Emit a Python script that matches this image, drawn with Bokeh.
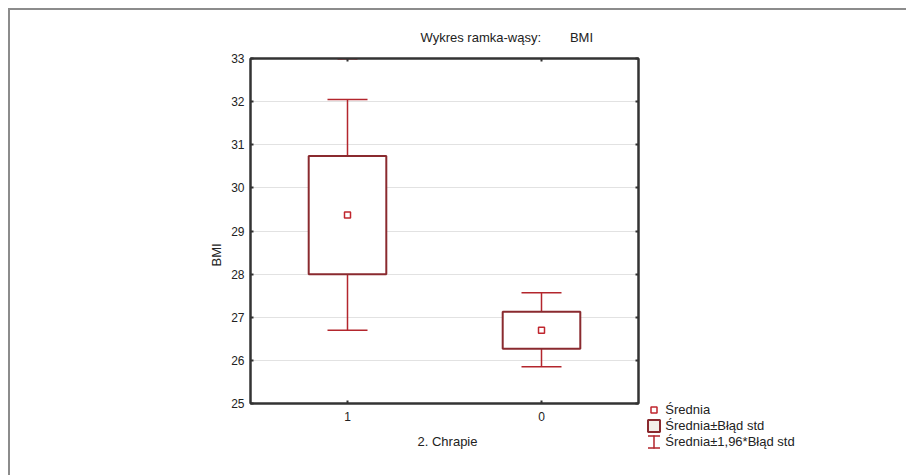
from bokeh.plotting import figure
from bokeh.models import (ColumnDataSource, FactorRange, Range1d, FixedTicker, LinearAxis,
                          CategoricalAxis, Title, Legend, LegendItem, CustomJSTickFormatter)
from bokeh.core.properties import value
from bokeh.embed import file_html
from bokeh.resources import INLINE

# ---- data ----
groups = ["1", "0"]
means = [29.37, 26.70]
se_low = [28.00, 26.27]
se_high = [30.74, 27.13]
ci_low = [26.70, 25.85]
ci_high = [32.05, 27.57]
y_ticks = [25, 26, 27, 28, 29, 30, 31, 32, 33]

title_text = "Wykres ramka-wąsy:"
title_var = "BMI"
x_title = "2. Chrapie"
y_title = "BMI"
legend_labels = ["Średnia", "Średnia±Błąd std", "Średnia±1,96*Błąd std"]

BOX_C = "#8a2a2f"
WHISK_C = "#b3262d"
MEAN_C = "#c0262e"
AX_C = "#333333"
FONT = "Liberation Sans"
TXT = "#222222"
FS = "13px"

src = ColumnDataSource(dict(g=groups, m=means, sl=se_low, sh=se_high, cl=ci_low, ch=ci_high))

p = figure(x_range=FactorRange(*groups, range_padding=0), y_range=Range1d(25, 33),
           frame_width=388, frame_height=345, output_backend="svg", toolbar_location=None,
           min_border_left=240, min_border_right=896 - 240 - 388, min_border_top=48,
           min_border_bottom=72)
p.styles = {"margin-left": "8px", "margin-top": "8px",
            "border-left": "2px solid #8c8c8c", "border-top": "2px solid #8c8c8c"}
p.background_fill_color = "white"
p.border_fill_color = "white"
p.outline_line_color = AX_C
p.outline_line_width = 2

p.title.text = title_text + "\u00a0" * 8 + title_var
p.title.align = "left"
p.title.offset = 170
p.title.text_font = FONT
p.title.text_font_size = FS
p.title.text_font_style = "normal"
p.title.text_color = TXT
p.title.standoff = 20

p.xgrid.grid_line_color = None
p.ygrid.grid_line_color = "#e2e2e2"
p.ygrid.grid_line_width = 1
p.ygrid.ticker = FixedTicker(ticks=y_ticks)

for ax in p.yaxis:
    ax.ticker = FixedTicker(ticks=y_ticks)
    ax.major_tick_in = 3
    ax.major_tick_out = 0
    ax.minor_tick_line_color = None
    ax.axis_line_color = AX_C
    ax.axis_line_width = 2
    ax.major_tick_line_color = AX_C
    ax.major_tick_line_width = 2
    ax.major_label_text_font = FONT
    ax.major_label_text_font_size = "12px"
    ax.major_label_text_color = TXT
    ax.major_label_standoff = 6
for ax in p.xaxis:
    ax.major_tick_in = 3
    ax.major_tick_out = 0
    ax.axis_line_color = AX_C
    ax.axis_line_width = 2
    ax.major_tick_line_color = AX_C
    ax.major_tick_line_width = 2
    ax.major_label_text_font = FONT
    ax.major_label_text_font_size = "12px"
    ax.major_label_text_color = TXT
    ax.major_label_standoff = 8

blank = CustomJSTickFormatter(code="return ''")
right = LinearAxis(ticker=FixedTicker(ticks=y_ticks), formatter=blank,
                   major_label_text_font_size="1px", major_label_standoff=0,
                   major_tick_in=3, major_tick_out=0,
                   minor_tick_line_color=None, axis_line_color=AX_C, axis_line_width=2,
                   major_tick_line_color=AX_C, major_tick_line_width=2)
p.add_layout(right, "right")
top = CategoricalAxis(major_label_overrides={g: "" for g in groups},
                      major_label_text_font_size="1px", major_label_standoff=0,
                      major_tick_in=3, major_tick_out=0,
                      axis_line_color=AX_C, axis_line_width=2,
                      major_tick_line_color=AX_C, major_tick_line_width=2)
p.add_layout(top, "above")

xt = Title(text=x_title, align="left", offset=167, text_font=FONT, text_font_size=FS,
           text_font_style="normal", text_color=TXT, standoff=16)
p.add_layout(xt, "below")
yt = Title(text=y_title, align="left", offset=137, text_font=FONT, text_font_size=FS,
           text_font_style="normal", text_color=TXT, standoff=10)
p.add_layout(yt, "left")

# whisker stems and caps (±1.96*SE)
p.segment(x0="g", y0="sh", x1="g", y1="ch", source=src, line_color=WHISK_C, line_width=1.5)
p.segment(x0="g", y0="sl", x1="g", y1="cl", source=src, line_color=WHISK_C, line_width=1.5)
p.scatter(x="g", y="ch", source=src, marker="dash", size=40, line_color=WHISK_C, line_width=1.5)
p.scatter(x="g", y="cl", source=src, marker="dash", size=40, line_color=WHISK_C, line_width=1.5)
# boxes (±SE)
p.vbar(x="g", width=0.4, bottom="sl", top="sh", source=src, fill_color="white",
       line_color=BOX_C, line_width=2)
# means
r_mean = p.scatter(x="g", y="m", source=src, marker="square", size=6, fill_color="white",
                   line_color=MEAN_C, line_width=1.5)

# legend-only swatch renderers (placed outside the y range, so nothing shows in the plot)
off_src = ColumnDataSource(dict(x=[groups[0]], b=[1000.0], t=[1001.0]))
r_box = p.vbar(x="x", width=0.1, bottom="b", top="t", source=off_src,
               fill_color="#f3eee8", line_color=BOX_C, line_width=2)
r_caps = p.vbar(x="x", width=0.1, bottom="b", top="t", source=off_src,
                fill_color=None, line_color=WHISK_C, line_width=1.5, line_dash="12 12")
r_stem = p.ellipse(x="x", y="b", width=0.0001, height=1.0, source=off_src,
                   fill_color=None, line_color=WHISK_C, line_width=1.5)

legend = Legend(items=[LegendItem(label=value(legend_labels[0]), renderers=[r_mean]),
                       LegendItem(label=value(legend_labels[1]), renderers=[r_box]),
                       LegendItem(label=value(legend_labels[2]), renderers=[r_caps, r_stem])],
                location=(-235, -46), glyph_width=15, glyph_height=15, label_height=15,
                spacing=1, padding=0, margin=0, label_standoff=4,
                label_text_font=FONT, label_text_font_size=FS, label_text_color=TXT,
                background_fill_alpha=0, border_line_color=None)
p.add_layout(legend, "right")

open("out.html", "w").write(file_html(p, INLINE))
